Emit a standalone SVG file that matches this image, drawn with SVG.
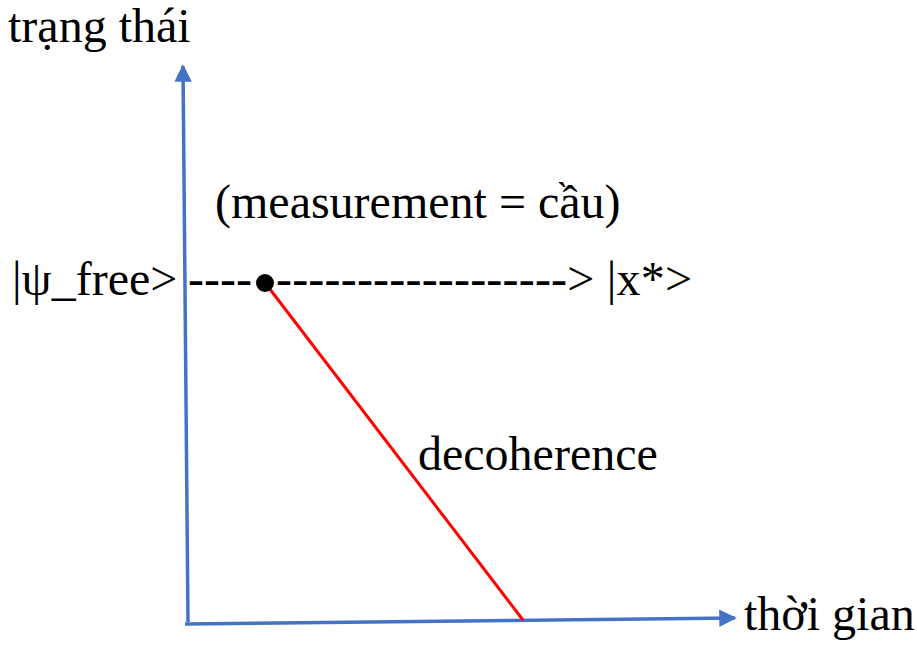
<svg xmlns="http://www.w3.org/2000/svg" width="917" height="648" viewBox="0 0 917 648">
<style>
text{font-family:"Liberation Serif","Times New Roman",serif;font-size:48px;fill:#000}
.axis{stroke:#4472C4;stroke-width:3.5;fill:none}
</style>
<defs>
<marker id="ah" viewBox="0 0 10 10" refX="9" refY="5" markerWidth="5" markerHeight="5" markerUnits="strokeWidth" orient="auto">
<path d="M0,0 L10,5 L0,10 z" fill="#4472C4"/>
</marker>
</defs>
<rect width="917" height="648" fill="#fff"/>
<g id="connectors">
<line class="axis" x1="188" y1="622" x2="183" y2="66" marker-end="url(#ah)"/>
<line class="axis" x1="185" y1="624" x2="735" y2="618" marker-end="url(#ah)"/>
<line x1="266" y1="284" x2="523" y2="620" stroke="#FF0000" stroke-width="3"/>
</g>
<g id="labels">
<text x="8" y="42">trạng thái</text>
<text x="215" y="218">(measurement = cầu)</text>
<text x="12" y="295">|ψ_free&gt;</text>
<text x="188" y="295">----</text>
<text x="276" y="295" textLength="416" lengthAdjust="spacing">------------------&gt; |x*&gt;</text>
<text x="418" y="470">decoherence</text>
<text x="744" y="630">thời gian</text>
</g>
<g id="node-measurement">
<circle cx="265" cy="283" r="9" fill="#000"/>
</g>
</svg>
